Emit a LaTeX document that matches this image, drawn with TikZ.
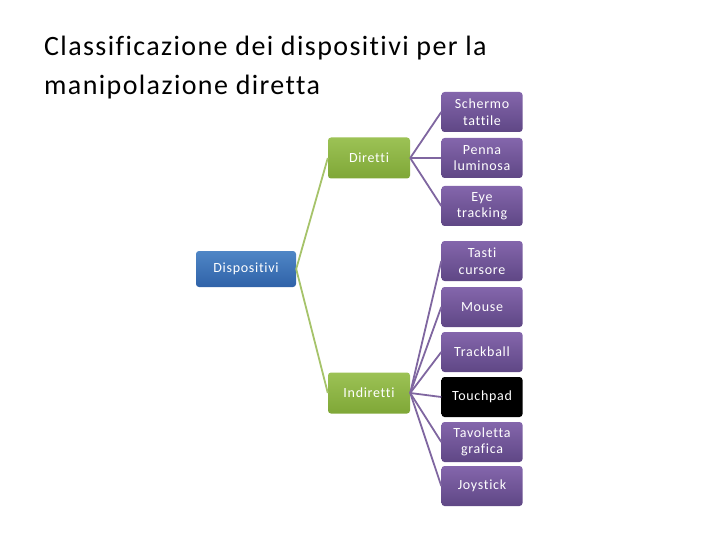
\documentclass[tikz,border=0pt]{standalone}
\usepackage{fontspec}
\setmainfont{Carlito}
\newfontfamily\titlefont[LetterSpace=5,Ligatures=CommonOff]{Carlito}
\newfontfamily\boxfont[LetterSpace=5,Ligatures=CommonOff]{Carlito}
\usetikzlibrary{positioning}

\definecolor{dispblue}{HTML}{4F86C6}
\definecolor{dispbluedk}{HTML}{2F62A8}
\definecolor{catgreen}{HTML}{9CC255}
\definecolor{catgreendk}{HTML}{7FA737}
\definecolor{leafpurple}{HTML}{8466AC}
\definecolor{leafpurpledk}{HTML}{5F4785}
\definecolor{linkgreen}{HTML}{A6C36A}
\definecolor{linkpurple}{HTML}{7F66A0}

\tikzset{
  box/.style={rounded corners=3pt,align=center,text=white,inner sep=1pt,
    font=\boxfont\fontsize{14}{16.5}\selectfont},
  rootbox/.style={box,top color=dispblue,bottom color=dispbluedk,
    minimum width=100pt,minimum height=36pt},
  catbox/.style={box,top color=catgreen,bottom color=catgreendk,
    minimum width=82pt,minimum height=41pt},
  leafbox/.style={box,top color=leafpurple,bottom color=leafpurpledk,
    minimum width=81pt,minimum height=40pt},
  catlink/.style={draw=linkgreen,line width=1.8pt},
  leaflink/.style={draw=linkpurple,line width=1.8pt}
}

\begin{document}
\begin{tikzpicture}[x=1pt,y=-1pt]
  \useasboundingbox (0,0) rectangle (720,540);

  % title
  \node[anchor=base west,inner sep=0pt,font=\titlefont\fontsize{28}{32}\selectfont]
    (title1) at (44,56) {Classificazione dei dispositivi per la};
  \node[anchor=base west,inner sep=0pt,font=\titlefont\fontsize{28}{32}\selectfont]
    (title2) at (44,95) {manipolazione diretta};

  % root and categories
  \node[rootbox] (disp) at (246,269) {Dispositivi};
  \node[catbox] (dir) at (369,158) {Diretti};
  \node[catbox] (ind) at (369,393) {Indiretti};

  % leaves
  \node[leafbox] (schermo) at (482,112) {Schermo\\tattile};
  \node[leafbox] (penna) at (482,158) {Penna\\luminosa};
  \node[leafbox] (eye) at (482,206) {Eye\\tracking};
  \node[leafbox] (tasti) at (482,261) {Tasti\\cursore};
  \node[leafbox] (mouse) at (482,307) {Mouse};
  \node[leafbox] (track) at (482,352) {Trackball};
  \node[leafbox,top color=black,bottom color=black] (touch) at (482,397) {Touchpad};
  \node[leafbox] (tav) at (482,442) {Tavoletta\\grafica};
  \node[leafbox] (joy) at (482,486) {Joystick};

  % connectors
  \draw[catlink] (disp.east) -- (dir.west);
  \draw[catlink] (disp.east) -- (ind.west);
  \foreach \leaf in {schermo,penna,eye}
    \draw[leaflink] (dir.east) -- (\leaf.west);
  \foreach \leaf in {tasti,mouse,track,touch,tav,joy}
    \draw[leaflink] (ind.east) -- (\leaf.west);
\end{tikzpicture}
\end{document}
